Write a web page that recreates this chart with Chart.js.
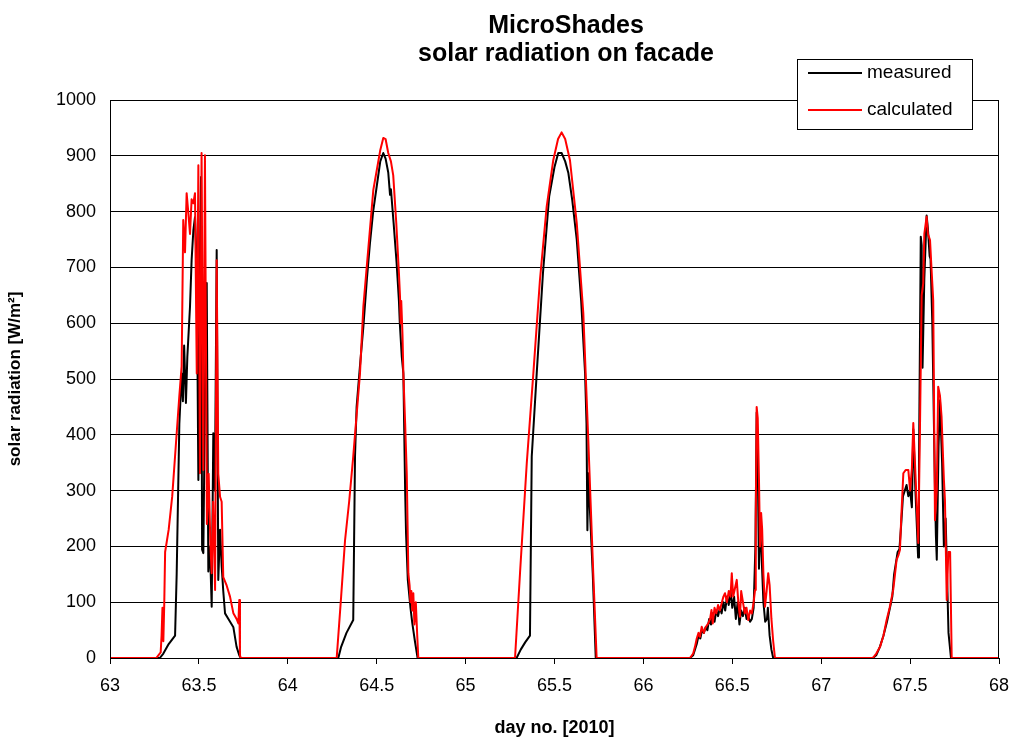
<!DOCTYPE html>
<html>
<head>
<meta charset="utf-8">
<title>MicroShades solar radiation on facade</title>
<script src="https://cdn.jsdelivr.net/npm/chart.js@4.4.1/dist/chart.umd.min.js"></script>
<style>
  html, body { margin: 0; padding: 0; background: #fff; }
  canvas { display: block; }
</style>
</head>
<body>
<canvas id="radChart" width="1012" height="742"></canvas>
<script>
// Day numbers (x) and radiation values (y)
const measuredDay = [
  63.00, 63.28, 63.30, 63.33, 63.366, 63.375, 63.39, 63.403, 63.41, 63.417, 63.427, 63.435, 63.45, 63.459,
  63.469, 63.478, 63.488, 63.497, 63.505, 63.512, 63.518, 63.525, 63.535, 63.544, 63.553, 63.562, 63.572,
  63.581, 63.590, 63.600, 63.609, 63.619, 63.628, 63.637, 63.647, 63.666, 63.694, 63.712, 63.727, 63.735,
  64.284, 64.30, 64.33, 64.368, 64.378, 64.387, 64.405, 64.425, 64.445, 64.462, 64.48, 64.50, 64.52, 64.537,
  64.55, 64.565, 64.575, 64.58, 64.595, 64.612, 64.625, 64.63, 64.641, 64.65, 64.66, 64.665, 64.675, 64.69,
  64.70, 64.715, 64.73,
  65.287, 65.31, 65.335, 65.362, 65.372, 65.40, 65.435, 65.47, 65.50, 65.521, 65.54, 65.56, 65.578, 65.60,
  65.625, 65.65, 65.672, 65.68, 65.685, 65.69, 65.70, 65.715, 65.732,
  66.262, 66.28, 66.30, 66.31, 66.32, 66.33, 66.34, 66.35, 66.36, 66.37, 66.38, 66.39, 66.40, 66.41, 66.42,
  66.43, 66.44, 66.45, 66.46, 66.47, 66.48, 66.49, 66.50, 66.51, 66.52, 66.53, 66.54, 66.55, 66.56, 66.57,
  66.58, 66.59, 66.60, 66.61, 66.62, 66.63, 66.637, 66.645, 66.65, 66.655, 66.665, 66.675, 66.685, 66.695,
  66.70, 66.71, 66.72, 66.73,
  67.29, 67.31, 67.33, 67.35, 67.37, 67.39, 67.40, 67.41, 67.42, 67.43, 67.44, 67.45, 67.46, 67.47, 67.48,
  67.49, 67.50, 67.51, 67.518, 67.53, 67.545, 67.55, 67.56, 67.565, 67.57, 67.58, 67.593, 67.60, 67.61,
  67.615, 67.625, 67.64, 67.645, 67.65, 67.66, 67.668, 67.68, 67.69, 67.70, 67.71, 67.716, 67.73, 68.00
];
const measuredRad = [
  0, 0, 8, 25, 40, 150, 420, 510, 460, 560, 457, 540, 630, 713,
  767, 790, 700, 319, 700, 862, 194, 188, 500, 672, 155, 200, 92,
  403, 300, 731, 140, 230, 165, 120, 80, 70, 55, 20, 5, 0,
  0, 20, 45, 68, 361, 450, 520, 594, 680, 743, 800, 845, 890, 905,
  895, 870, 830, 840, 780, 708, 640, 600, 540, 510, 300, 224, 140, 90,
  63, 30, 0,
  0, 15, 28, 40, 361, 510, 689, 827, 880, 905, 905, 890, 869, 820,
  750, 640, 510, 420, 229, 331, 260, 152, 0,
  0, 5, 25, 40, 35, 50, 45, 55, 50, 70, 60, 80, 65, 85, 75,
  90, 80, 100, 85, 110, 95, 120, 90, 110, 70, 100, 60, 85, 75, 90,
  70, 75, 65, 70, 90, 200, 440, 300, 160, 240, 180, 100, 65, 70,
  90, 40, 15, 0,
  0, 5, 20, 40, 65, 95, 110, 150, 170, 190, 195, 240, 290, 300, 310,
  290, 300, 270, 410, 300, 180, 350, 755, 740, 520, 680, 793, 770, 720,
  715, 600, 300, 220, 176, 380, 462, 350, 200, 250, 120, 45, 0, 0
];
const calculatedDay = [
  63.00, 63.26, 63.285, 63.29, 63.295, 63.30, 63.305, 63.31, 63.33, 63.35, 63.37, 63.39, 63.403, 63.412,
  63.422, 63.431, 63.44, 63.45, 63.459, 63.469, 63.478, 63.488, 63.497, 63.506, 63.515, 63.525, 63.534,
  63.545, 63.555, 63.565, 63.572, 63.58, 63.591, 63.600, 63.609, 63.619, 63.628, 63.637, 63.656, 63.675,
  63.694, 63.712, 63.722, 63.727, 63.731, 63.735,
  64.275, 64.30, 64.322, 64.345, 64.368, 64.406, 64.425, 64.444, 64.481, 64.52, 64.537, 64.55, 64.565,
  64.58, 64.593, 64.61, 64.625, 64.631, 64.635, 64.638, 64.645, 64.65, 64.66, 64.669, 64.678, 64.685,
  64.69, 64.695, 64.70, 64.706, 64.712, 64.72, 64.728, 64.734,
  65.278, 65.306, 65.344, 65.381, 65.418, 65.456, 65.493, 65.52, 65.54, 65.56, 65.587, 65.625, 65.662,
  65.69, 65.718, 65.737,
  66.262, 66.28, 66.29, 66.30, 66.31, 66.318, 66.328, 66.34, 66.35, 66.365, 66.375, 66.383, 66.39, 66.40,
  66.41, 66.42, 66.43, 66.44, 66.45, 66.459, 66.47, 66.48, 66.49, 66.497, 66.505, 66.515, 66.525, 66.535,
  66.543, 66.55, 66.56, 66.57, 66.58, 66.59, 66.60, 66.61, 66.62, 66.628, 66.632, 66.637, 66.643, 66.65,
  66.656, 66.662, 66.668, 66.675, 66.684, 66.693, 66.702, 66.71, 66.72, 66.73, 66.74,
  67.29, 67.31, 67.331, 67.35, 67.368, 67.385, 67.405, 67.415, 67.424, 67.435, 67.443, 67.45, 67.462,
  67.475, 67.49, 67.50, 67.51, 67.518, 67.53, 67.546, 67.555, 67.565, 67.574, 67.58, 67.593, 67.60,
  67.612, 67.62, 67.63, 67.64, 67.65, 67.658, 67.668, 67.677, 67.69, 67.696, 67.706, 67.715, 67.725,
  67.734, 68.00
];
const calculatedRad = [
  0, 0, 10, 40, 90, 30, 95, 190, 230, 290, 380, 470, 523, 785,
  727, 833, 800, 760, 822, 815, 833, 510, 883, 331, 905, 337, 901,
  240, 330, 200, 152, 280, 122, 713, 330, 289, 280, 145, 130, 110,
  80, 70, 62, 104, 5, 0,
  0, 110, 211, 280, 361, 510, 630, 701, 839, 910, 932, 930, 905,
  890, 865, 780, 690, 648, 600, 640, 580, 510, 420, 331, 152, 130,
  100, 120, 85, 116, 60, 100, 40, 0,
  0, 152, 349, 510, 677, 809, 892, 930, 942, 930, 892, 780, 618,
  391, 152, 0,
  0, 8, 20, 35, 45, 38, 56, 45, 55, 62, 70, 86, 62, 90,
  80, 95, 85, 98, 110, 116, 100, 120, 110, 152, 110, 125, 140, 95,
  74, 120, 100, 80, 90, 68, 85, 80, 100, 122, 250, 450, 430, 320,
  200, 260, 230, 150, 92, 120, 152, 130, 70, 30, 0,
  0, 8, 20, 40, 68, 90, 122, 150, 176, 185, 194, 250, 331,
  337, 337, 300, 340, 421, 330, 206, 400, 650, 672, 760, 791, 760,
  749, 700, 641, 247, 300, 486, 470, 432, 320, 283, 104, 190, 190,
  0, 0
];
const xTicks = { min: 63, max: 68, step: 0.5 };
const yTicks = { min: 0, max: 1000, step: 100 };
const titleLines = ['MicroShades', 'solar radiation on facade'];

const FONT = '"Liberation Sans", Arial, sans-serif';

const toPoints = (xs, ys) => xs.map((x, i) => ({ x: x, y: ys[i] }));

// frame round the plot area
const frame = {
  id: 'frame',
  afterDatasetsDraw(chart) {
    const a = chart.chartArea, ctx = chart.ctx;
    ctx.save();
    ctx.strokeStyle = '#000';
    ctx.lineWidth = 1;
    ctx.strokeRect(Math.round(a.left) + 0.5, Math.round(a.top) + 0.5,
      Math.round(a.right - a.left) - 1, Math.round(a.bottom - a.top));
    ctx.restore();
  }
};

// two-line title, centred a little right of the canvas like the original
const titleText = {
  id: 'titleText',
  afterDraw(chart) {
    const ctx = chart.ctx;
    ctx.save();
    ctx.fillStyle = '#000';
    ctx.font = 'bold 25px ' + FONT;
    ctx.textAlign = 'center';
    ctx.textBaseline = 'middle';
    titleLines.forEach((t, i) => ctx.fillText(t, 566, 26 + i * 28));
    ctx.restore();
  }
};

// boxed legend overlapping the top right corner
const boxLegend = {
  id: 'boxLegend',
  afterDraw(chart) {
    const ctx = chart.ctx;
    const x = 797, y = 59, w = 175, h = 70;
    ctx.save();
    ctx.fillStyle = '#fff';
    ctx.fillRect(x, y, w, h);
    ctx.strokeStyle = '#000';
    ctx.lineWidth = 1;
    ctx.strokeRect(x + 0.5, y + 0.5, w, h);
    ctx.font = '19px ' + FONT;
    ctx.textBaseline = 'middle';
    chart.data.datasets.forEach((ds, i) => {
      const ly = y + 14 + i * 37;
      ctx.strokeStyle = ds.borderColor;
      ctx.lineWidth = 2;
      ctx.beginPath();
      ctx.moveTo(x + 11, ly);
      ctx.lineTo(x + 65, ly);
      ctx.stroke();
      ctx.fillStyle = '#000';
      ctx.fillText(ds.label, x + 70, ly);
    });
    ctx.restore();
  }
};

new Chart(document.getElementById('radChart'), {
  type: 'line',
  data: {
    datasets: [
      {
        label: 'measured',
        data: toPoints(measuredDay, measuredRad),
        borderColor: '#000000',
        borderWidth: 2,
        order: 1
      },
      {
        label: 'calculated',
        data: toPoints(calculatedDay, calculatedRad),
        borderColor: '#ff0000',
        borderWidth: 2,
        order: 0
      }
    ]
  },
  options: {
    responsive: false,
    animation: false,
    devicePixelRatio: 1,
    layout: { padding: { top: 100, right: 13, bottom: 0, left: 0 } },
    elements: {
      point: { radius: 0, hoverRadius: 0 },
      line: { tension: 0, borderJoinStyle: 'round', fill: false }
    },
    plugins: {
      legend: { display: false },
      title: { display: false },
      tooltip: { enabled: false }
    },
    scales: {
      x: {
        type: 'linear',
        min: xTicks.min,
        max: xTicks.max,
        afterFit(scale) {
          scale.height = 84;
          scale.paddingLeft = 0;
          scale.paddingRight = 0;
        },
        ticks: {
          stepSize: xTicks.step,
          color: '#000',
          font: { family: FONT, size: 18 },
          padding: 11,
          maxRotation: 0,
          autoSkip: false,
          callback: v => String(v)
        },
        grid: { drawOnChartArea: false, drawTicks: true, tickLength: 6, color: '#000' },
        border: { color: '#000' },
        title: {
          display: true,
          text: 'day no. [2010]',
          color: '#000',
          font: { family: FONT, size: 18, weight: 'bold' },
          padding: { top: 0, bottom: 3 }
        }
      },
      y: {
        min: yTicks.min,
        max: yTicks.max,
        afterFit(scale) {
          scale.width = 110;
          scale.paddingTop = 0;
          scale.paddingBottom = 0;
        },
        ticks: {
          stepSize: yTicks.step,
          color: '#000',
          font: { family: FONT, size: 18 },
          padding: 14,
          callback: v => String(v)
        },
        grid: { color: '#000', lineWidth: 1, drawTicks: false },
        border: { color: '#000' },
        title: {
          display: true,
          text: 'solar radiation [W/m²]',
          color: '#000',
          font: { family: FONT, size: 17, weight: 'bold' },
          padding: { top: 5, bottom: 0 }
        }
      }
    }
  },
  plugins: [frame, titleText, boxLegend]
});
</script>
</body>
</html>
